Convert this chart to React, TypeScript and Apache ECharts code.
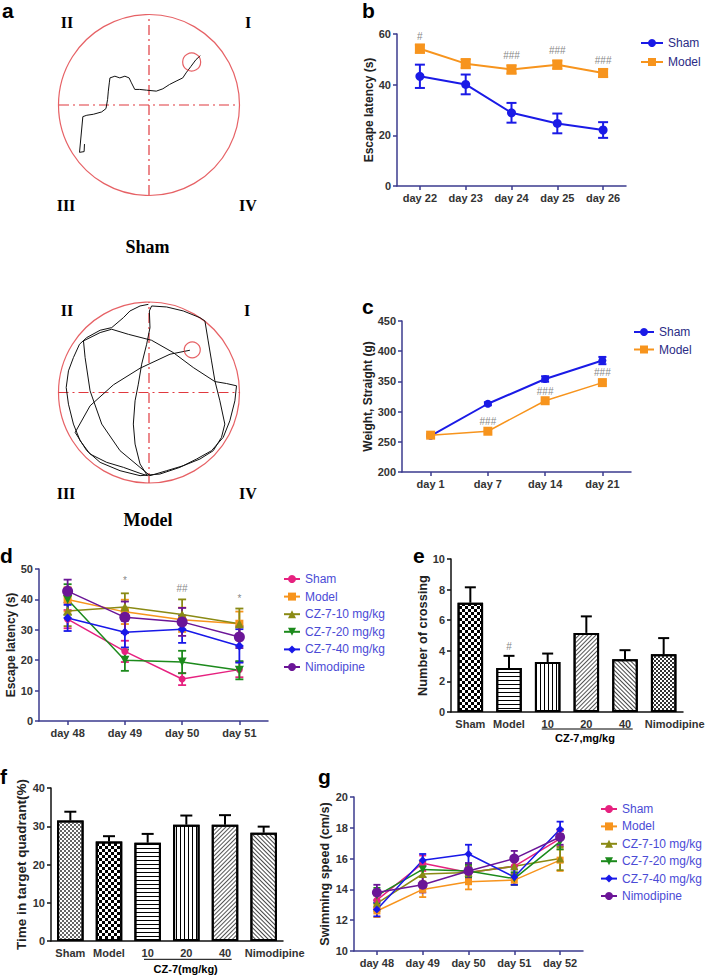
import React, { useEffect, useRef } from "react";
import * as echarts from "echarts";

// ---------- Panel a : swim paths (pool radius = 100) ----------
const poolCenter = [[0, 0]];
const quadH = [[-100, 0], [100, 0]];
const quadV = [[0, -100], [0, 100]];
const shamPlatform = [[47.4, 47.8]];
const modelPlatform = [[47.8, 47.1]];
const shamTrack = [
  [-71.7, -43.4], [-72.1, -51.8], [-77.2, -52.6], [-73.5, -12.9], [-69.1, -11.4], [-61.8, -10.3],
  [-52.6, -7.7], [-47.8, -4.0], [-46.0, 6.3], [-45.2, 15.4], [-44.1, 24.6], [-43.4, 30.1],
  [-37.9, 32.0], [-32.4, 30.1], [-26.8, 32.0], [-22.1, 30.1], [-19.5, 24.6], [-15.8, 17.3],
  [-10.3, 17.3], [-2.9, 16.5], [8.1, 15.4], [15.4, 18.0], [22.8, 22.8], [30.1, 26.5],
  [37.5, 30.1], [41.2, 35.7], [46.7, 43.0], [52.2, 50.4], [57.0, 54.8],
];
const modelTrack = [
  [-0.7, 97.4], [-9.9, 95.6], [-21.0, 90.1], [-28.3, 82.7], [-41.2, 71.7], [-54.0, 68.8],
  [-68.8, 60.7], [-76.8, 53.3], [-83.5, 38.6], [-89.0, 23.9], [-91.5, 5.5], [-89.0, -12.9],
  [-83.5, -34.9], [-76.1, -53.3], [-65.1, -68.0], [-46.7, -77.2], [-28.3, -82.7], [-9.9, -89.3],
  [-1.8, -91.9], [-9.9, -79.0], [-15.4, -57.0], [-17.3, -34.9], [-15.4, -9.2], [-11.8, 9.2],
  [-8.1, 31.3], [-2.6, 53.3], [1.1, 71.7], [0.4, 90.1], [2.9, 95.6], [19.5, 94.5], [37.9, 90.1],
  [56.3, 82.7], [61.8, 79.0], [65.4, 57.0], [69.1, 34.9], [72.8, 12.9], [78.3, -9.2],
  [83.8, -34.9], [80.1, -49.6], [71.0, -64.3], [56.3, -73.5], [37.9, -80.9], [19.5, -86.4],
  [1.1, -91.9], [-32.0, -64.3], [-52.2, -34.9], [-65.1, 1.8], [-70.6, 38.6], [-72.4, 57.0],
  [-54.0, 66.2], [-41.2, 69.9], [-22.8, 64.3], [2.9, 57.7], [26.8, 44.1], [48.9, 27.6],
  [72.8, 12.1], [85.7, 9.9], [96.7, 7.4], [94.9, -9.2], [89.3, -31.3], [82.0, -49.6],
  [69.1, -64.3], [52.6, -73.5], [34.2, -82.7], [12.1, -90.1], [-9.9, -91.9], [-32.0, -86.4],
  [-54.0, -77.2], [-68.8, -64.3], [-81.6, -44.1], [-65.1, -14.7], [-39.3, 8.5], [-9.9, 26.8],
  [23.2, 42.3], [45.2, 46.7],
];

// ---------- Panel b ----------
const bDays = ["day 22", "day 23", "day 24", "day 25", "day 26"];
const bSham = [43.3, 40.1, 28.9, 24.7, 22.1];
const bShamErr = [4.6, 3.9, 3.9, 3.9, 3.1];
const bModel = [54.2, 48.3, 46.0, 47.9, 44.6];
const bModelErr = [1.6, 1.8, 1.6, 1.6, 1.6];
const bMarks = ["#", "", "###", "###", "###"];
const bMarkY = [59, 0, 51.5, 53.5, 49.5];

// ---------- Panel c ----------
const cDays = ["day 1", "day 7", "day 14", "day 21"];
const cSham = [260, 313, 354, 384.5];
const cShamErr = [2, 2.5, 4.5, 6];
const cModel = [261, 267.5, 318, 348];
const cModelErr = [2, 2, 2.5, 3];
const cMarks = ["", "###", "###", "###"];
const cMarkY = [0, 283, 333, 365];

// ---------- Panel d ----------
const dDays = ["day 48", "day 49", "day 50", "day 51"];
const dSham = [33.5, 22.9, 13.8, 16.9];
const dShamErr = [3, 3.5, 2, 2.5];
const dModel = [40.0, 35.9, 33.3, 32.0];
const dModelErr = [4, 4, 4, 4];
const dCz10 = [36.2, 37.5, 35.0, 32.0];
const dCz10Err = [5, 4.5, 5, 5];
const dCz20 = [40.0, 20.0, 19.4, 16.7];
const dCz20Err = [5, 3.5, 3.7, 3];
const dCz40 = [33.9, 29.2, 30.2, 24.7];
const dCz40Err = [4.3, 5, 4.5, 5.5];
const dNimo = [42.7, 34.1, 32.6, 27.6];
const dNimoErr = [3.8, 5.2, 4.6, 3.6];
const dMarks = ["", "*", "##", "*"];
const dMarkY = [0, 46.3, 43.7, 40.4];

// ---------- Panel e ----------
const eGroups = ["Sham", "Model", "10", "20", "40", "Nimodipine"];
const eMean = [7.14, 2.88, 3.27, 5.17, 3.45, 3.78];
const eErr = [1.01, 0.79, 0.55, 1.08, 0.59, 1.05];
const eMarks = ["", "#", "", "", "", ""];
const eMarkY = [0, 4.25, 0, 0, 0, 0];

// ---------- Panel f ----------
const fGroups = ["Sham", "Model", "10", "20", "40", "Nimodipine"];
const fMean = [31.5, 26.0, 25.7, 30.4, 30.4, 28.3];
const fErr = [2.3, 1.4, 2.3, 2.4, 2.5, 1.6];

// ---------- Panel g ----------
const gDays = ["day 48", "day 49", "day 50", "day 51", "day 52"];
const gSham = [13.3, 15.7, 15.1, 15.5, 17.3];
const gShamErr = [0.5, 0.5, 0.4, 0.5, 0.5];
const gModel = [12.6, 14.0, 14.5, 14.6, 15.9];
const gModelErr = [0.4, 0.5, 0.5, 0.3, 0.7];
const gCz10 = [13.1, 15.0, 15.1, 15.5, 16.0];
const gCz10Err = [0.5, 0.5, 0.4, 0.4, 0.75];
const gCz20 = [13.6, 15.3, 15.2, 14.7, 17.1];
const gCz20Err = [0.5, 0.5, 0.4, 0.4, 0.5];
const gCz40 = [12.7, 15.9, 16.3, 14.8, 17.9];
const gCz40Err = [0.45, 0.4, 0.6, 0.5, 0.5];
const gNimo = [13.8, 14.3, 15.2, 16.0, 17.4];
const gNimoErr = [0.5, 0.5, 0.5, 0.5, 0.5];

// ---------- styles ----------
const FONT = 'Arial, "Liberation Sans", Helvetica, sans-serif';
const SERIF = '"Liberation Serif", "Times New Roman", Times, serif';
const NAVY = "#3b3b8e";
const RED = "#e0393e";
const COL = {
  blue: "#1a1ae6",
  orange: "#f7941d",
  sham: "#e6217f",
  cz10: "#8a8a14",
  cz20: "#1c8a1c",
  cz40: "#1818e8",
  nimo: "#6b1597",
};

const DEC: any = {
  checker: { symbol: "rect", symbolSize: 1, color: "#000", dashArrayX: [[3, 3], [0, 3, 3, 0]], dashArrayY: [3, 0] },
  fineDark: { symbol: "rect", symbolSize: 1, color: "#333", dashArrayX: [[2, 2], [0, 2, 2, 0]], dashArrayY: [2, 0] },
  fineGray: { symbol: "rect", symbolSize: 1, color: "#666", dashArrayX: [[2, 2], [0, 2, 2, 0]], dashArrayY: [2, 0] },
  hLines: { symbol: "rect", symbolSize: 1, color: "#000", dashArrayX: [1, 0], dashArrayY: [1, 2.5] },
  vLines: { symbol: "rect", symbolSize: 1, color: "#000", dashArrayX: [1, 2.6], dashArrayY: [1, 0] },
  diagA: { symbol: "rect", symbolSize: 1, color: "#555", dashArrayX: [1, 0], dashArrayY: [1, 1.8], rotation: -Math.PI / 4 },
  diagB: { symbol: "rect", symbolSize: 1, color: "#444", dashArrayX: [1, 0], dashArrayY: [1, 1.6], rotation: Math.PI / 4 },
};
const eDecals = [DEC.checker, DEC.hLines, DEC.vLines, DEC.diagA, DEC.diagB, DEC.fineDark];
const fDecals = [DEC.fineGray, DEC.checker, DEC.hLines, DEC.vLines, DEC.diagA, DEC.diagB];

function errData(mean: number[], err: number[], upOnly = false) {
  return mean.map((m, i) => [i, upOnly ? m : m - err[i], m + err[i]]);
}

function errSeries(xi: number, data: number[][], color: string, cap: number, lw: number, both: boolean, z = 3) {
  return {
    type: "custom",
    xAxisIndex: xi,
    yAxisIndex: xi,
    silent: true,
    z,
    data,
    encode: { x: 0, y: [1, 2] },
    renderItem: (_p: any, api: any) => {
      const i = api.value(0);
      const lo = api.coord([i, api.value(1)]);
      const hi = api.coord([i, api.value(2)]);
      const h = cap / 2;
      const st = { stroke: color, lineWidth: lw };
      const ch: any[] = [
        { type: "line", shape: { x1: lo[0], y1: lo[1], x2: hi[0], y2: hi[1] }, style: st },
        { type: "line", shape: { x1: hi[0] - h, y1: hi[1], x2: hi[0] + h, y2: hi[1] }, style: st },
      ];
      if (both) ch.push({ type: "line", shape: { x1: lo[0] - h, y1: lo[1], x2: lo[0] + h, y2: lo[1] }, style: st });
      return { type: "group", children: ch };
    },
  };
}

function lineSeries(name: string, xi: number, data: number[], color: string, symbol: string, size: number, rotate = 0, width = 2) {
  return {
    type: "line",
    name,
    xAxisIndex: xi,
    yAxisIndex: xi,
    data,
    symbol,
    symbolSize: size,
    symbolRotate: rotate,
    showSymbol: true,
    lineStyle: { color, width },
    itemStyle: { color },
    z: 4,
  };
}

function markSeries(xi: number, texts: string[], ys: number[], size = 10) {
  return {
    type: "scatter",
    xAxisIndex: xi,
    yAxisIndex: xi,
    symbolSize: 1,
    silent: true,
    itemStyle: { color: "rgba(0,0,0,0)" },
    data: texts.map((t, i) => ({ name: t, value: [i, ys[i]] })).filter((d) => d.name),
    label: { show: true, position: "inside", formatter: "{b}", color: "#666", fontSize: size, fontFamily: FONT },
    z: 6,
  };
}

function catX(gi: number, data: any[], color: string, tick: boolean) {
  return {
    type: "category",
    gridIndex: gi,
    data,
    boundaryGap: true,
    axisLine: { show: true, onZero: false, lineStyle: { color, width: 1.5 } },
    axisTick: { show: tick, alignWithLabel: true, length: 4, lineStyle: { color, width: 1.5 } },
    axisLabel: { interval: 0, margin: 6, color: "#333", fontSize: 11, fontWeight: "bold", fontFamily: FONT },
    splitLine: { show: false },
  };
}

function valY(gi: number, min: number, max: number, interval: number, name: string, nameGap: number, color: string, nameSize = 12) {
  return {
    type: "value",
    gridIndex: gi,
    min,
    max,
    interval,
    name,
    nameLocation: "middle",
    nameGap,
    nameRotate: 90,
    nameTextStyle: { fontSize: nameSize, fontWeight: "bold", color: "#222", fontFamily: FONT },
    axisLine: { show: true, lineStyle: { color, width: 1.5 } },
    axisTick: { show: true, length: 4, lineStyle: { color, width: 1.5 } },
    axisLabel: { margin: 6, color: "#333", fontSize: 11, fontWeight: "bold", fontFamily: FONT },
    splitLine: { show: false },
  };
}

function hiddenAxis(gi: number) {
  return { type: "value", gridIndex: gi, min: -100, max: 100, show: false, splitLine: { show: false } };
}

function poolSeries(xi: number, track: number[][], platform: number[][], poolSize: number, platSize: number) {
  const dash = [10, 4, 2, 4];
  return [
    {
      type: "scatter", xAxisIndex: xi, yAxisIndex: xi, data: poolCenter, symbol: "circle", symbolSize: poolSize,
      itemStyle: { color: "rgba(0,0,0,0)", borderColor: RED, borderWidth: 1.2 }, silent: true, z: 1,
    },
    {
      type: "line", xAxisIndex: xi, yAxisIndex: xi, data: quadH, showSymbol: false, symbol: "none",
      lineStyle: { color: RED, width: 1.2, type: dash }, silent: true, z: 1,
    },
    {
      type: "line", xAxisIndex: xi, yAxisIndex: xi, data: quadV, showSymbol: false, symbol: "none",
      lineStyle: { color: RED, width: 1.2, type: dash }, silent: true, z: 1,
    },
    {
      type: "line", xAxisIndex: xi, yAxisIndex: xi, data: track, showSymbol: false, symbol: "none",
      lineStyle: { color: "#111", width: 1 }, silent: true, z: 2,
    },
    {
      type: "scatter", xAxisIndex: xi, yAxisIndex: xi, data: platform, symbol: "circle", symbolSize: platSize,
      itemStyle: { color: "rgba(0,0,0,0)", borderColor: RED, borderWidth: 1.2 }, silent: true, z: 3,
    },
  ];
}

function txt(text: string, x: number, y: number, font: string, align = "center", fill = "#000") {
  return { type: "text", x, y, silent: true, style: { text, font, fill, align, verticalAlign: "middle" } };
}

function legend(names: string[], left: number, top: number, gap: number, itemWidth: number, color: string) {
  return {
    orient: "vertical",
    left,
    top,
    padding: 0,
    itemGap: gap,
    itemWidth,
    itemHeight: 10,
    data: names,
    formatter: (n: string) => n.split("|")[0],
    textStyle: { fontSize: 12, color, fontFamily: FONT, padding: [0, 0, 0, 0] },
    selectedMode: false,
  };
}

// last category label sits a little right of its bar, as in the source figure
function barCats(groups: string[]) {
  return groups.map((g, i) => (i === groups.length - 1 ? { value: g, textStyle: { padding: [0, 0, 0, 22] } } : g));
}

export default function App() {
  const ref = useRef<HTMLDivElement>(null);
  useEffect(() => {
    if (!ref.current) return;
    const chart = echarts.init(ref.current, undefined, { renderer: "svg" });

    const grids = [
      { left: 59, top: 15, width: 180, height: 180 },
      { left: 58.5, top: 302, width: 181, height: 181 },
      { left: 397, top: 34, width: 229, height: 152 },
      { left: 402, top: 321, width: 229, height: 151 },
      { left: 39, top: 569, width: 229, height: 152 },
      { left: 451, top: 559, width: 232, height: 153 },
      { left: 51, top: 788, width: 232, height: 153 },
      { left: 354, top: 797, width: 229, height: 154 },
    ].map((g) => ({ ...g, containLabel: false, outerBoundsMode: "none" }));

    const xAxis = [
      hiddenAxis(0),
      hiddenAxis(1),
      catX(2, bDays, NAVY, true),
      catX(3, cDays, NAVY, true),
      catX(4, dDays, NAVY, true),
      catX(5, barCats(eGroups), "#111", false),
      catX(6, barCats(fGroups), "#111", false),
      catX(7, gDays, NAVY, true),
    ];
    const yAxis = [
      hiddenAxis(0),
      hiddenAxis(1),
      valY(2, 0, 60, 20, "Escape latency (s)", 22, NAVY, 12),
      valY(3, 200, 450, 50, "Weight, Straight (g)", 28, NAVY, 12),
      valY(4, 0, 50, 10, "Escape latency (s)", 21, NAVY, 12),
      valY(5, 0, 10, 2, "Number of crossing", 21, "#111", 12.8),
      valY(6, 0, 40, 10, "Time in target quadrant(%)", 18, "#111", 13.5),
      valY(7, 10, 20, 2, "Swimming speed (cm/s)", 13, NAVY, 12.6),
    ];

    const barSeries = (xi: number, mean: number[], decals: any[], w: number) => ({
      type: "bar",
      xAxisIndex: xi,
      yAxisIndex: xi,
      barWidth: w,
      data: mean.map((v, i) => ({ value: v, itemStyle: { decal: decals[i] } })),
      itemStyle: { color: "#fff", borderColor: "#000", borderWidth: 2 },
      silent: true,
      z: 2,
    });

    const series: any[] = [
      ...poolSeries(0, shamTrack, shamPlatform, 181, 18),
      ...poolSeries(1, modelTrack, modelPlatform, 181, 16),

      errSeries(2, errData(bSham, bShamErr), COL.blue, 10, 2, true),
      errSeries(2, errData(bModel, bModelErr), COL.orange, 10, 2, true),
      lineSeries("Sham|b", 2, bSham, COL.blue, "circle", 9),
      lineSeries("Model|b", 2, bModel, COL.orange, "rect", 10),
      markSeries(2, bMarks, bMarkY),

      errSeries(3, errData(cSham, cShamErr), COL.blue, 8, 2, true),
      errSeries(3, errData(cModel, cModelErr), COL.orange, 8, 2, true),
      lineSeries("Sham|c", 3, cSham, COL.blue, "circle", 8),
      lineSeries("Model|c", 3, cModel, COL.orange, "rect", 9, 0, 1.5),
      markSeries(3, cMarks, cMarkY),

      errSeries(4, errData(dSham, dShamErr), COL.sham, 8, 1.8, true),
      errSeries(4, errData(dModel, dModelErr), COL.orange, 8, 1.8, true),
      errSeries(4, errData(dCz10, dCz10Err), COL.cz10, 8, 1.8, true),
      errSeries(4, errData(dCz20, dCz20Err), COL.cz20, 8, 1.8, true),
      errSeries(4, errData(dCz40, dCz40Err), COL.cz40, 8, 1.8, true),
      errSeries(4, errData(dNimo, dNimoErr), COL.nimo, 8, 1.8, true),
      lineSeries("Sham|d", 4, dSham, COL.sham, "circle", 7, 0, 1.5),
      lineSeries("Model|d", 4, dModel, COL.orange, "rect", 8, 0, 1.5),
      lineSeries("CZ-7-10 mg/kg|d", 4, dCz10, COL.cz10, "triangle", 9, 0, 1.5),
      lineSeries("CZ-7-20 mg/kg|d", 4, dCz20, COL.cz20, "triangle", 9, 180, 1.5),
      lineSeries("CZ-7-40 mg/kg|d", 4, dCz40, COL.cz40, "diamond", 9, 0, 1.5),
      lineSeries("Nimodipine|d", 4, dNimo, COL.nimo, "circle", 11, 0, 1.5),
      markSeries(4, dMarks, dMarkY),

      barSeries(5, eMean, eDecals, 25.5),
      errSeries(5, errData(eMean, eErr, true), "#000", 11, 2, false, 3),
      markSeries(5, eMarks, eMarkY),

      barSeries(6, fMean, fDecals, 26.5),
      errSeries(6, errData(fMean, fErr, true), "#000", 12, 2, false, 3),

      errSeries(7, errData(gSham, gShamErr), COL.sham, 7, 1.8, true),
      errSeries(7, errData(gModel, gModelErr), COL.orange, 7, 1.8, true),
      errSeries(7, errData(gCz10, gCz10Err), COL.cz10, 7, 1.8, true),
      errSeries(7, errData(gCz20, gCz20Err), COL.cz20, 7, 1.8, true),
      errSeries(7, errData(gCz40, gCz40Err), COL.cz40, 7, 1.8, true),
      errSeries(7, errData(gNimo, gNimoErr), COL.nimo, 7, 1.8, true),
      lineSeries("Sham|g", 7, gSham, COL.sham, "circle", 7, 0, 1.5),
      lineSeries("Model|g", 7, gModel, COL.orange, "rect", 7, 0, 1.5),
      lineSeries("CZ-7-10 mg/kg|g", 7, gCz10, COL.cz10, "triangle", 8, 0, 1.5),
      lineSeries("CZ-7-20 mg/kg|g", 7, gCz20, COL.cz20, "triangle", 8, 180, 1.5),
      lineSeries("CZ-7-40 mg/kg|g", 7, gCz40, COL.cz40, "diamond", 8, 0, 1.5),
      lineSeries("Nimodipine|g", 7, gNimo, COL.nimo, "circle", 10, 0, 1.5),
    ];

    const groupNames = ["Sham", "Model", "CZ-7-10 mg/kg", "CZ-7-20 mg/kg", "CZ-7-40 mg/kg", "Nimodipine"];
    const legends = [
      legend(["Sham|b", "Model|b"], 640, 37, 7, 22, "#2b2b85"),
      legend(["Sham|c", "Model|c"], 633, 326, 5.5, 20, "#2b2b85"),
      legend(groupNames.map((n) => n + "|d"), 283, 573, 5.6, 16, "#4b4bd6"),
      legend(groupNames.map((n) => n + "|g"), 600, 803, 5.4, 16, "#4b4bd6"),
    ];

    const LBL = "bold 21px " + FONT;
    const ROM = "bold 16px " + SERIF;
    const CAP = "bold 18px " + SERIF;
    const SMALL = "bold 11px " + FONT;
    const graphic: any[] = [
      txt("a", 2, 10, LBL, "left"),
      txt("b", 362, 10, LBL, "left"),
      txt("c", 362, 306, LBL, "left"),
      txt("d", 0, 555, LBL, "left"),
      txt("e", 413, 555, LBL, "left"),
      txt("f", 0, 776, LBL, "left"),
      txt("g", 318, 776, LBL, "left"),
      txt("II", 67, 22.5, ROM),
      txt("I", 248, 22.5, ROM),
      txt("III", 66, 205.5, ROM),
      txt("IV", 248, 205.5, ROM),
      txt("Sham", 147.5, 246.5, CAP),
      txt("II", 67, 310, ROM),
      txt("I", 247, 310, ROM),
      txt("III", 66, 493, ROM),
      txt("IV", 248, 493, ROM),
      txt("Model", 148, 520, CAP),
      { type: "line", silent: true, shape: { x1: 541.7, y1: 729, x2: 632.7, y2: 729 }, style: { stroke: "#000", lineWidth: 1 } },
      txt("CZ-7,mg/kg", 585, 738, SMALL),
      { type: "line", silent: true, shape: { x1: 144, y1: 959.3, x2: 231.7, y2: 959.3 }, style: { stroke: "#000", lineWidth: 1 } },
      txt("CZ-7(mg/kg)", 185.7, 969, SMALL),
    ];

    chart.setOption({
      animation: false,
      backgroundColor: "#fff",
      textStyle: { fontFamily: FONT },
      grid: grids,
      xAxis,
      yAxis,
      legend: legends,
      series,
      graphic,
    });
    return () => chart.dispose();
  }, []);
  return <div ref={ref} style={{ position: "absolute", left: 0, top: 0, width: 705, height: 977 }} />;
}
